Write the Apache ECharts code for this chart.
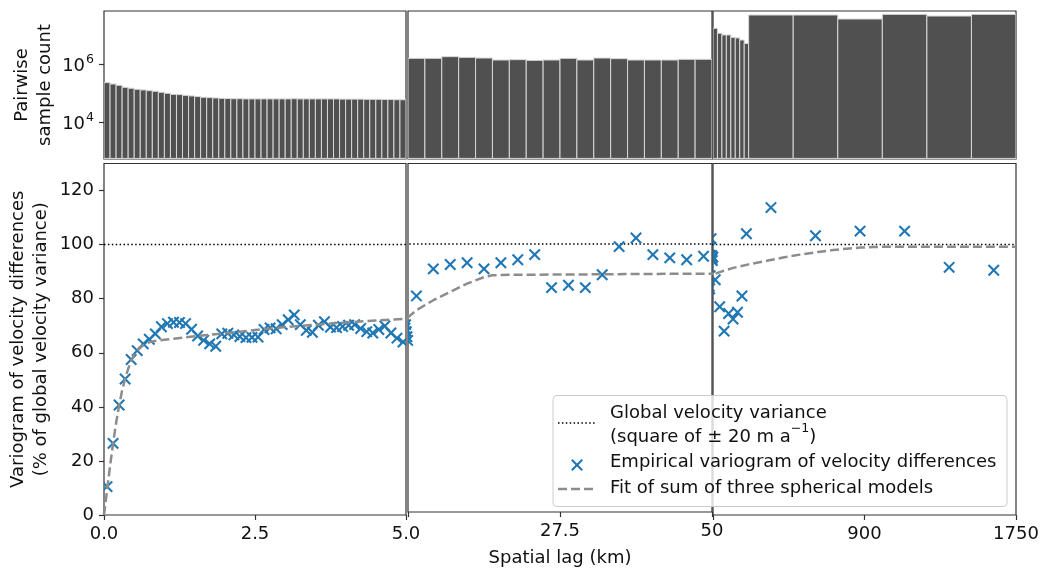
<!DOCTYPE html>
<html><head><meta charset="utf-8">
<script src="https://cdn.jsdelivr.net/npm/echarts@6/dist/echarts.min.js"></script>
<style>html,body{margin:0;padding:0;background:#fff}#c{width:1042px;height:572px}</style>
</head><body><div id="c"></div>
<script>
// ---------- DATA ----------
// panel x ranges (km)
const panelMin = [0, 5, 50];
const panelMax = [5, 50, 1750];
const xTickValues = [[0, 2.5, 5], [5, 27.5, 50], [50, 900, 1750]];
const xTickLabels = [['0.0', '2.5', '5.0'], ['', '27.5', '50'], ['', '900', '1750']];
const yTickValues = [0, 20, 40, 60, 80, 100, 120];
const countTickValues = [1e4, 1e6];
const countTickLabels = ['4', '6'];

// histogram bin edges (km) and pairwise sample counts
const binEdges1 = [0,0.1,0.2,0.3,0.4,0.5,0.6,0.7,0.8,0.9,1.0,1.1,1.2,1.3,1.4,1.5,1.6,1.7,1.8,1.9,2.0,2.1,2.2,2.3,2.4,2.5,2.6,2.7,2.8,2.9,3.0,3.1,3.2,3.3,3.4,3.5,3.6,3.7,3.8,3.9,4.0,4.1,4.2,4.3,4.4,4.5,4.6,4.7,4.8,4.9,5.0];
const counts1 = [2.31e5,2.07e5,1.87e5,1.59e5,1.47e5,1.36e5,1.29e5,1.22e5,1.16e5,1.07e5,9.9e4,9.1e4,8.9e4,8.4e4,8.0e4,7.6e4,7.2e4,7.0e4,6.8e4,6.6e4,6.5e4,6.4e4,6.4e4,6.3e4,6.3e4,6.3e4,6.3e4,6.3e4,6.3e4,6.3e4,6.3e4,6.4e4,6.3e4,6.3e4,6.3e4,6.3e4,6.3e4,6.3e4,6.3e4,6.2e4,6.2e4,6.2e4,6.2e4,6.1e4,6.1e4,6.1e4,6.0e4,6.0e4,5.9e4,5.9e4];
const binEdges2 = [5,7.5,10,12.5,15,17.5,20,22.5,25,27.5,30,32.5,35,37.5,40,42.5,45,47.5,50];
const counts2 = [1.61e6,1.61e6,1.84e6,1.74e6,1.65e6,1.41e6,1.45e6,1.37e6,1.41e6,1.61e6,1.41e6,1.65e6,1.57e6,1.41e6,1.41e6,1.41e6,1.49e6,1.49e6];
const binEdges3 = [50,75,100,125,150,175,200,225,250,500,750,1000,1250,1500,1750];
const counts3 = [1.77e7,1.19e7,1.04e7,1.04e7,8.6e6,8.2e6,6.95e6,5.3e6,5.12e7,5.12e7,3.72e7,5.4e7,4.72e7,5.4e7];

// empirical variogram (% of global variance), one value per bin
const vario1 = [10.5,26.5,40.7,50.3,57.5,60.8,63.3,65.0,67.0,69.6,70.8,71.3,71.2,70.8,68.7,66.2,64.6,63.3,62.4,67.0,67.2,66.6,66.0,65.6,65.7,65.8,68.6,69.2,68.9,70.4,72.2,74.0,70.4,68.3,67.6,70.2,71.5,69.5,69.3,69.7,70.2,70.4,69.0,67.8,67.3,68.6,69.9,67.3,65.4,64.0];
const vario2 = [80.6,90.7,92.3,93.0,90.7,93.0,94.1,96.0,83.7,84.6,83.7,88.5,99.0,102.2,96.0,94.8,94.1,95.4];
const vario3 = [87,77,68,74.5,72.5,75,81,104,113.7,103.3,105,105,91.6,90.5];

// fitted model (sum of three spherical models)
const fitLag = [0,0.05,0.1,0.15,0.2,0.25,0.3,0.35,0.4,0.45,0.5,0.6,0.7,0.8,1.0,1.5,2,2.5,3,3.5,4,4.5,5,6.25,8.75,11.25,13.75,16.25,17.5,20,30,40,50,100,164,250,351,450,538,640,725,800,875,950,1000,1750];
const fitVal = [0,9,18,26.5,34,40.5,46,50.5,54,57,59.3,62,63.5,64.2,64.8,66.1,67.2,68.4,69.5,70.4,71.2,71.9,72.6,75.3,79,82.1,85.2,87.6,88.3,88.5,88.6,88.8,88.9,90.1,91.4,92.7,94.0,95.3,96.3,97.3,98.0,98.5,98.9,99.1,99.2,99.2];

// global variance reference
const globalLag = [0, 1750];
const globalVal = [100, 100];

// ---------- CHART ----------
const FONT = 'DejaVu Sans';
const BLUE = '#1f77b4';
const AX = '#333333';
const TXT = '#111111';
const FS = 18;

const binEdges = [binEdges1, binEdges2, binEdges3];
const counts = [counts1, counts2, counts3];
const varios = [vario1, vario2, vario3];

function histData(e, c) { return c.map((v, i) => [e[i], e[i + 1], v]); }
function centers(e) { const r = []; for (let i = 0; i < e.length - 1; i++) r.push((e[i] + e[i + 1]) / 2); return r; }
const allPts = [];
for (let p = 0; p < 3; p++) { const cx = centers(binEdges[p]); varios[p].forEach((v, i) => allPts.push([cx[i], v])); }
const fitData = fitLag.map((x, i) => [x, fitVal[i]]);
const globalData = globalLag.map((x, i) => [x, globalVal[i]]);

const gx = [{ left: 104, width: 302 }, { left: 408, width: 304 }, { left: 713, width: 303 }];
const grid = [];
gx.forEach(g => grid.push({ left: g.left, width: g.width, top: 11, height: 148, show: true, borderColor: AX, borderWidth: 1.2 }));
gx.forEach(g => grid.push({ left: g.left, width: g.width, top: 163.5, height: 351.5, show: true, borderColor: AX, borderWidth: 1.2 }));

const xAxis = [], yAxis = [], series = [];
for (let p = 0; p < 3; p++) {
  xAxis.push({ type: 'value', gridIndex: p, min: panelMin[p], max: panelMax[p], axisLine: { show: false }, axisTick: { show: false }, axisLabel: { show: false }, splitLine: { show: false } });
  yAxis.push({
    type: 'log', logBase: 10, gridIndex: p, min: 520, max: 7.05e7,
    axisLine: { show: false }, splitLine: { show: false }, minorTick: { show: false },
    axisTick: { show: p === 0, length: 5, lineStyle: { color: AX, width: 1.2 }, customValues: countTickValues },
    axisLabel: {
      show: p === 0, customValues: countTickValues, margin: 10,
      formatter: v => { const i = countTickValues.findIndex(t => Math.abs(Math.log10(t) - Math.log10(v)) < 1e-6); return i < 0 ? '' : '{b|10}{s|' + countTickLabels[i] + '}'; },
      rich: { b: { fontFamily: FONT, fontSize: FS, color: TXT, lineHeight: 22, verticalAlign: 'bottom' }, s: { fontFamily: FONT, fontSize: 12.5, color: TXT, lineHeight: 22, verticalAlign: 'top', padding: [0, 0, 0, 1] } }
    },
    name: p === 0 ? 'Pairwise\nsample count' : '', nameLocation: 'middle', nameGap: 47,
    nameTextStyle: { fontFamily: FONT, fontSize: FS, color: TXT, lineHeight: 23 }
  });
}
for (let p = 0; p < 3; p++) {
  xAxis.push({
    type: 'value', gridIndex: 3 + p, min: panelMin[p], max: panelMax[p],
    axisLine: { show: false }, splitLine: { show: false },
    axisTick: { show: true, length: 5, lineStyle: { color: AX, width: 1.2 }, customValues: xTickValues[p] },
    axisLabel: {
      customValues: xTickValues[p], margin: 10, fontFamily: FONT, fontSize: FS, color: TXT,
      formatter: v => { const i = xTickValues[p].findIndex(t => Math.abs(t - v) < 1e-9); return i < 0 ? '' : xTickLabels[p][i]; }
    },
    name: p === 1 ? 'Spatial lag (km)' : '', nameLocation: 'middle', nameGap: 37,
    nameTextStyle: { fontFamily: FONT, fontSize: FS, color: TXT }
  });
  yAxis.push({
    type: 'value', gridIndex: 3 + p, min: 0, max: 130,
    axisLine: { show: false }, splitLine: { show: false },
    axisTick: { show: p === 0, length: 5, lineStyle: { color: AX, width: 1.2 }, customValues: yTickValues },
    axisLabel: { show: p === 0, customValues: yTickValues, margin: 10, fontFamily: FONT, fontSize: FS, color: TXT },
    name: p === 0 ? 'Variogram of velocity differences\n(% of global velocity variance)' : '',
    nameLocation: 'middle', nameGap: 51,
    nameTextStyle: { fontFamily: FONT, fontSize: FS, color: TXT, lineHeight: 23 }
  });
}

for (let p = 0; p < 3; p++) {
  // histogram
  series.push({
    type: 'custom', name: 'count' + p, xAxisIndex: p, yAxisIndex: p, clip: true,
    encode: { x: [0, 1], y: 2 },
    data: histData(binEdges[p], counts[p]),
    renderItem: (params, api) => {
      const a = api.coord([api.value(0), api.value(2)]);
      const b = api.coord([api.value(1), api.value(2)]);
      const cs = params.coordSys; const bottom = cs.y + cs.height - 0.6;
      return { type: 'rect', shape: { x: a[0], y: a[1], width: b[0] - a[0], height: bottom - a[1] }, style: { fill: '#505050', stroke: '#d8d8d8', lineWidth: 1 } };
    }
  });
  // global variance line
  series.push({ type: 'line', name: 'Global velocity variance', xAxisIndex: 3 + p, yAxisIndex: 3 + p, data: globalData, symbol: 'none', silent: true, clip: true, z: 2,
    lineStyle: { color: '#000', width: 1.5, type: [1.5, 2.4] } });
  // empirical variogram markers (all points, clipped to panel so edge markers are cut)
  series.push({
    type: 'custom', name: 'Empirical variogram of velocity differences', xAxisIndex: 3 + p, yAxisIndex: 3 + p, clip: true, z: 3,
    encode: { x: 0, y: 1 }, data: allPts,
    renderItem: (params, api) => {
      const c = api.coord([api.value(0), api.value(1)]); const s = 5.2;
      return { type: 'group', children: [
        { type: 'line', shape: { x1: c[0] - s, y1: c[1] - s, x2: c[0] + s, y2: c[1] + s }, style: { stroke: BLUE, lineWidth: 2.1 } },
        { type: 'line', shape: { x1: c[0] - s, y1: c[1] + s, x2: c[0] + s, y2: c[1] - s }, style: { stroke: BLUE, lineWidth: 2.1 } }
      ] };
    }
  });
  // fitted model
  series.push({ type: 'line', name: 'Fit of sum of three spherical models', xAxisIndex: 3 + p, yAxisIndex: 3 + p, data: fitData, symbol: 'none', silent: true, clip: true, z: 4,
    lineStyle: { color: '#8c8c8c', width: 2.5, type: [9, 4] } });
}

// legend box (drawn as graphics)
const L = { x: 553, y: 395.5, w: 454, h: 111 };
const tStyle = { fontFamily: FONT, fontSize: FS, fill: TXT };
const graphic = [
  { type: 'rect', z: 100, shape: { x: L.x, y: L.y, width: L.w, height: L.h, r: 4 }, style: { fill: 'rgba(255,255,255,0.8)', stroke: '#cccccc', lineWidth: 1 } },
  { type: 'line', z: 101, shape: { x1: 558, y1: 423, x2: 595, y2: 423 }, style: { stroke: '#000', lineWidth: 1.5, lineDash: [1.5, 2.4] } },
  { type: 'text', z: 101, x: 610, y: 422, style: { text: '{t|Global velocity variance}\n{t|(square of ± 20 m a}{s|−1}{t|)}', verticalAlign: 'middle', align: 'left',
      rich: { t: { fontFamily: FONT, fontSize: FS, fill: TXT, lineHeight: 24, verticalAlign: 'bottom' }, s: { fontFamily: FONT, fontSize: 12.5, fill: TXT, lineHeight: 24, verticalAlign: 'top' } } } },
  { type: 'line', z: 101, shape: { x1: 571.8, y1: 459.8, x2: 582.2, y2: 470.2 }, style: { stroke: BLUE, lineWidth: 2.1 } },
  { type: 'line', z: 101, shape: { x1: 571.8, y1: 470.2, x2: 582.2, y2: 459.8 }, style: { stroke: BLUE, lineWidth: 2.1 } },
  { type: 'text', z: 101, x: 610, y: 462, style: Object.assign({ text: 'Empirical variogram of velocity differences', verticalAlign: 'middle', align: 'left' }, tStyle) },
  { type: 'line', z: 101, shape: { x1: 558, y1: 489, x2: 595, y2: 489 }, style: { stroke: '#8c8c8c', lineWidth: 2.5, lineDash: [9, 4] } },
  { type: 'text', z: 101, x: 610, y: 488, style: Object.assign({ text: 'Fit of sum of three spherical models', verticalAlign: 'middle', align: 'left' }, tStyle) }
];

const chart = echarts.init(document.getElementById('c'), null, { renderer: 'canvas' });
chart.setOption({ animation: false, backgroundColor: '#fff', grid, xAxis, yAxis, series, graphic, tooltip: { show: false } });
</script></body></html>
